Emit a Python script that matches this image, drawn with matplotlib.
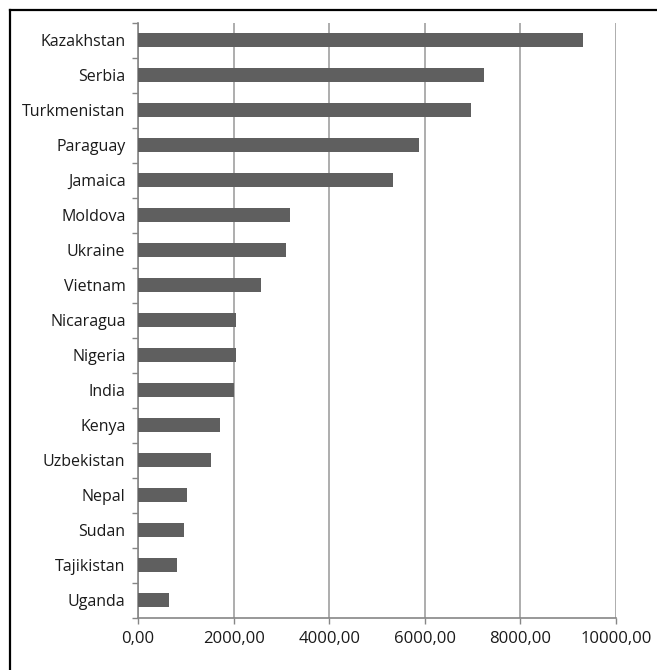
import matplotlib
matplotlib.use("Agg")
import matplotlib.pyplot as plt
from matplotlib.lines import Line2D
from matplotlib.ticker import FuncFormatter, FixedLocator

countries = ["Kazakhstan", "Serbia", "Turkmenistan", "Paraguay", "Jamaica", "Moldova",
             "Ukraine", "Vietnam", "Nicaragua", "Nigeria", "India", "Kenya",
             "Uzbekistan", "Nepal", "Sudan", "Tajikistan", "Uganda"]
values = [9310, 7240, 6970, 5880, 5340, 3180, 3090, 2570, 2050, 2050, 2010,
          1720, 1530, 1030, 970, 820, 655]
x_ticks = [0, 2000, 4000, 6000, 8000, 10000]

plt.rcParams['font.family'] = ['Open Sans', 'DejaVu Sans']

W, H = 657, 670
fig = plt.figure(figsize=(W / 100, H / 100), dpi=100)
ax = fig.add_axes([138 / W, (H - 617.5) / H, (616 - 138) / W, (617.5 - 22.5) / H])

n = len(countries)
ypos = list(range(n))
ax.barh(ypos, values, height=0.42, color="#5f5f5f", zorder=3)
ax.set_ylim(n - 0.5, -0.5)
ax.set_xlim(0, 10000)

ax.set_yticks(ypos)
ax.set_yticklabels(countries)
ax.yaxis.set_minor_locator(FixedLocator([i - 0.5 for i in range(n + 1)]))
ax.tick_params(axis="y", which="major", length=0, pad=9, labelsize=11.5, colors="#1a1a1a")
ax.tick_params(axis="y", which="minor", length=4, color="#868686", width=1)

ax.xaxis.set_major_locator(FixedLocator(x_ticks))
ax.xaxis.set_major_formatter(FuncFormatter(lambda v, p: f"{v:.2f}".replace(".", ",")))
ax.tick_params(axis="x", which="major", length=4, color="#868686", width=1, pad=6,
               labelsize=12, colors="#1a1a1a")
ax.tick_params(axis="x", which="major", color="#868686")

ax.grid(axis="x", color="#a0a0a0", linewidth=1.2, zorder=0)
for s in ["top", "right"]:
    ax.spines[s].set_visible(False)
for s in ["left", "bottom"]:
    ax.spines[s].set_color("#868686")
    ax.spines[s].set_linewidth(1.2)

# frame fragments visible in the (cropped) reference: top and left edges only
fig.add_artist(Line2D([10 / W, 10 / W], [0, (H - 10) / H], transform=fig.transFigure,
                      color="black", linewidth=1.6))
fig.add_artist(Line2D([10 / W, 1], [(H - 10) / H, (H - 10) / H], transform=fig.transFigure,
                      color="black", linewidth=1.6))

fig.savefig("out.png", dpi=100)
